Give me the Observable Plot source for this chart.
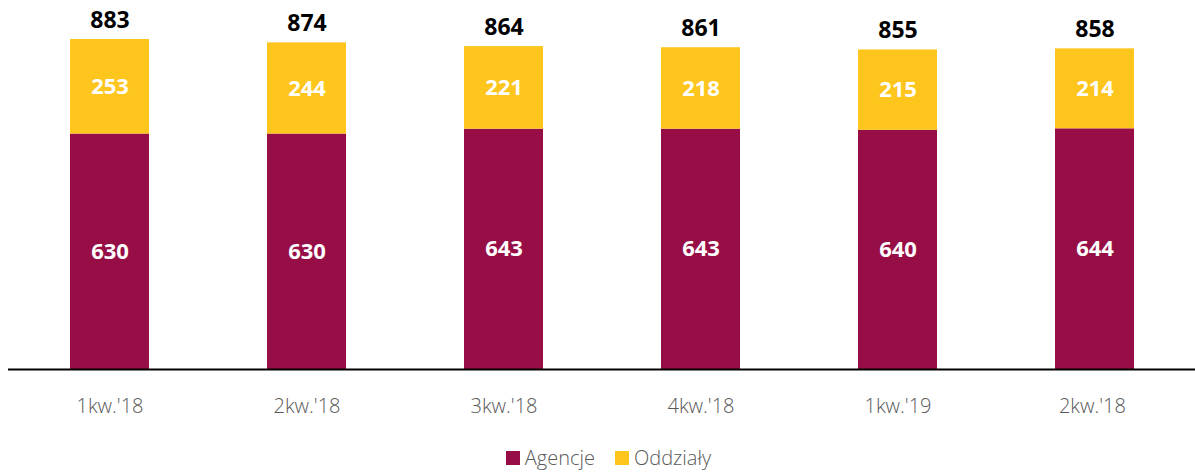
<!DOCTYPE html>
<html>
<head>
<meta charset="utf-8">
<script src="https://cdn.jsdelivr.net/npm/d3@7"></script>
<script src="https://cdn.jsdelivr.net/npm/@observablehq/plot@0.6"></script>
<style>
  html, body { margin: 0; padding: 0; background: #fff; }
  body { width: 1195px; height: 472px; overflow: hidden; font-family: "Open Sans", "Noto Sans", sans-serif; }
  #chart svg { display: block; }
  .legend { display: flex; justify-content: center; gap: 20px; margin-top: 0; padding-left: 22px; font-size: 20px; color: #595959; font-weight: 300; }
  .legend span { display: inline-flex; align-items: center; }
  .sw { width: 14px; height: 14px; display: inline-block; margin-right: 5px; }
</style>
</head>
<body>
<div id="chart"></div>
<div class="legend">
  <span><i class="sw" style="background:#970E46"></i>Agencje</span>
  <span><i class="sw" style="background:#FEC51C"></i>Oddziały</span>
</div>
<script>
const quarters = ["1kw.'18", "2kw.'18", "3kw.'18", "4kw.'18", "1kw.'19", "2kw.'18 "];
const quarterLabels = ["1kw.'18", "2kw.'18", "3kw.'18", "4kw.'18", "1kw.'19", "2kw.'18"];
const agencje = [630, 630, 643, 643, 640, 644];
const oddzialy = [253, 244, 221, 218, 215, 214];
const totals = [883, 874, 864, 861, 855, 858];
const seriesNames = ["Agencje", "Oddziały"];
const colors = ["#970E46", "#FEC51C"];

const rows = [];
quarters.forEach((q, i) => {
  rows.push({q, s: seriesNames[0], v: agencje[i]});
  rows.push({q, s: seriesNames[1], v: oddzialy[i]});
});
const totalRows = quarters.map((q, i) => ({q, v: totals[i]}));

const chart = Plot.plot({
  width: 1195,
  height: 444,
  marginLeft: 8,
  marginRight: 0,
  marginTop: 39,
  marginBottom: 75,
  style: {fontFamily: "'Open Sans', 'Noto Sans', sans-serif", background: "#fff"},
  x: {domain: quarters, paddingInner: 0.6, paddingOuter: 0.3, tickFormat: (d, i) => quarterLabels[i], label: null},
  y: {domain: [0, 883], axis: null},
  color: {domain: seriesNames, range: colors},
  marks: [
    Plot.barY(rows, {x: "q", y: "v", fill: "s", z: "s", order: seriesNames}),
    Plot.text(rows, Plot.stackY({x: "q", y: "v", z: "s", order: seriesNames, text: d => String(d.v), fill: "white", fontSize: 22, fontWeight: "bold"})),
    Plot.text(totalRows, {x: "q", y: "v", text: d => String(d.v), dy: -19, fill: "black", fontSize: 23, fontWeight: "bold"}),
    Plot.ruleY([0], {stroke: "black", strokeWidth: 2}),
    Plot.axisX({tickSize: 0, tickPadding: 29, fontSize: 20, color: "#595959", fontWeight: 300, label: null})
  ]
});
document.getElementById("chart").appendChild(chart);
</script>
</body>
</html>
